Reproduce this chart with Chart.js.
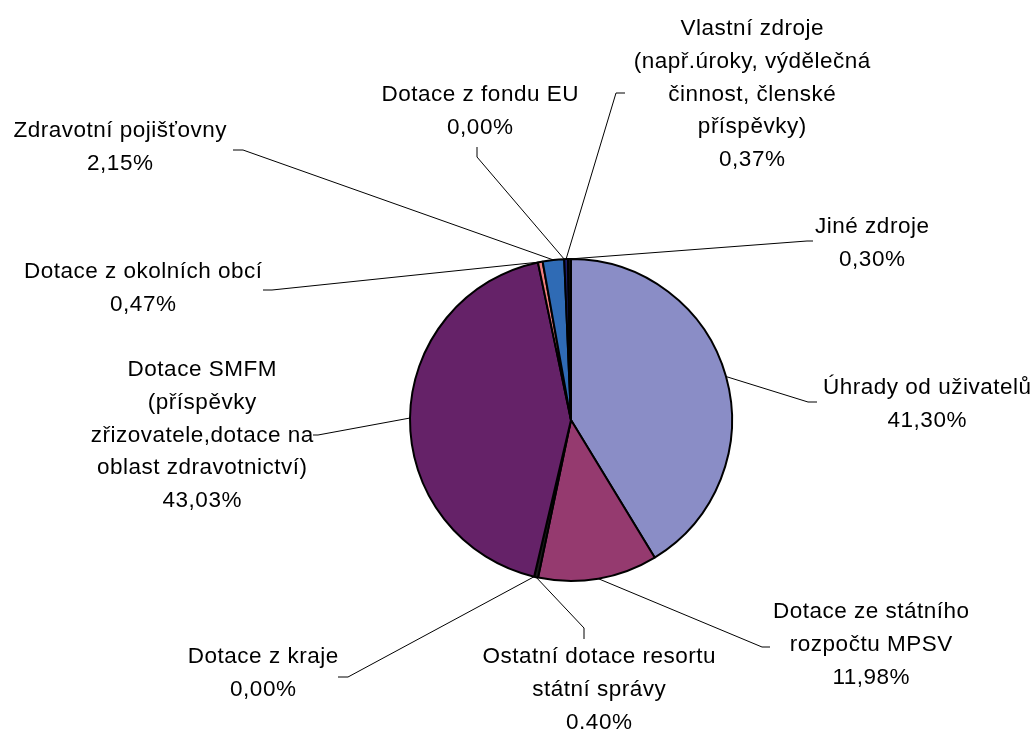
<!DOCTYPE html>
<html>
<head>
<meta charset="utf-8">
<script src="https://cdn.jsdelivr.net/npm/chart.js@4.4.0/dist/chart.umd.min.js"></script>
<style>
html,body{margin:0;padding:0;background:#fff;}
#wrap{width:1036px;height:729px;}
</style>
</head>
<body>
<div id="wrap"><canvas id="c" width="1036" height="729"></canvas></div>
<script>
// ---- data ----
const categories = [
  ['Úhrady od uživatelů'],
  ['Dotace ze státního', 'rozpočtu MPSV'],
  ['Ostatní dotace resortu', 'státní správy'],
  ['Dotace z kraje'],
  ['Dotace SMFM', '(příspěvky', 'zřizovatele,dotace na', 'oblast zdravotnictví)'],
  ['Dotace z okolních obcí'],
  ['Zdravotní pojišťovny'],
  ['Dotace z fondu EU'],
  ['Vlastní zdroje', '(např.úroky, výdělečná', 'činnost, členské', 'příspěvky)'],
  ['Jiné zdroje']
];
const shares = [41.30, 11.98, 0.40, 0.00, 43.03, 0.47, 2.15, 0.00, 0.37, 0.30];
const colors = ['#8A8DC6', '#953A6F', '#1A1A1A', '#1A1A1A', '#652268', '#F08080', '#2F6BB5', '#CCCCF2', '#1E1E6E', '#111111'];

// label layout: centre x, first-line y, leader knee and end points
const labelLayout = [
  {cx: 927, y0: 388, knee: [808, 402], end: [817, 402]},
  {cx: 871, y0: 612, knee: [762, 647], end: [770, 647]},
  {cx: 599, y0: 657, knee: [584, 628], end: [584, 639]},
  {cx: 263, y0: 657, knee: [348, 677], end: [338, 677]},
  {cx: 202, y0: 370, knee: [318, 435], end: [313, 435]},
  {cx: 143, y0: 272, knee: [272, 290], end: [263, 290]},
  {cx: 120, y0: 131, knee: [243, 150], end: [233, 150]},
  {cx: 480, y0: 95,  knee: [477, 157], end: [477, 147]},
  {cx: 752, y0: 29,  knee: [616, 93],  end: [625, 93]},
  {cx: 872, y0: 227, knee: [807, 241], end: [813, 241]}
];
const LINE_H = 32.7;
const FONT = '22.5px "Liberation Sans", Arial, sans-serif';
const SPACING = 0.5;

function pct(v){ return v.toFixed(2).replace('.', ',') + '%'; }

const labelPlugin = {
  id: 'excelLabels',
  afterDraw(chart){
    const ctx = chart.ctx;
    const meta = chart.getDatasetMeta(0);
    ctx.save();
    ctx.strokeStyle = '#000';
    ctx.lineWidth = 1;
    meta.data.forEach((arc, i) => {
      const p = arc.getProps(['x','y','startAngle','endAngle','outerRadius'], true);
      const mid = (p.startAngle + p.endAngle) / 2;
      const sx = p.x + Math.cos(mid) * p.outerRadius;
      const sy = p.y + Math.sin(mid) * p.outerRadius;
      const L = labelLayout[i];
      ctx.beginPath();
      ctx.moveTo(sx, sy);
      ctx.lineTo(L.knee[0], L.knee[1]);
      ctx.lineTo(L.end[0], L.end[1]);
      ctx.stroke();
    });
    ctx.fillStyle = '#000';
    ctx.font = FONT;
    ctx.letterSpacing = SPACING + 'px';
    ctx.textAlign = 'center';
    ctx.textBaseline = 'middle';
    categories.forEach((lines, i) => {
      const L = labelLayout[i];
      const all = lines.concat([pct(shares[i])]);
      all.forEach((t, k) => ctx.fillText(t, L.cx + SPACING / 2, L.y0 + k * LINE_H));
    });
    ctx.restore();
  }
};

new Chart(document.getElementById('c'), {
  type: 'pie',
  data: {
    labels: categories.map(l => l.join(' ')),
    datasets: [{
      data: shares,
      backgroundColor: colors,
      borderColor: '#000',
      borderWidth: 2
    }]
  },
  options: {
    responsive: false,
    animation: false,
    radius: 161,
    layout: {padding: {left: 106, right: 0, top: 111, bottom: 0}},
    plugins: {legend: {display: false}, tooltip: {enabled: false}}
  },
  plugins: [labelPlugin]
});
</script>
</body>
</html>
